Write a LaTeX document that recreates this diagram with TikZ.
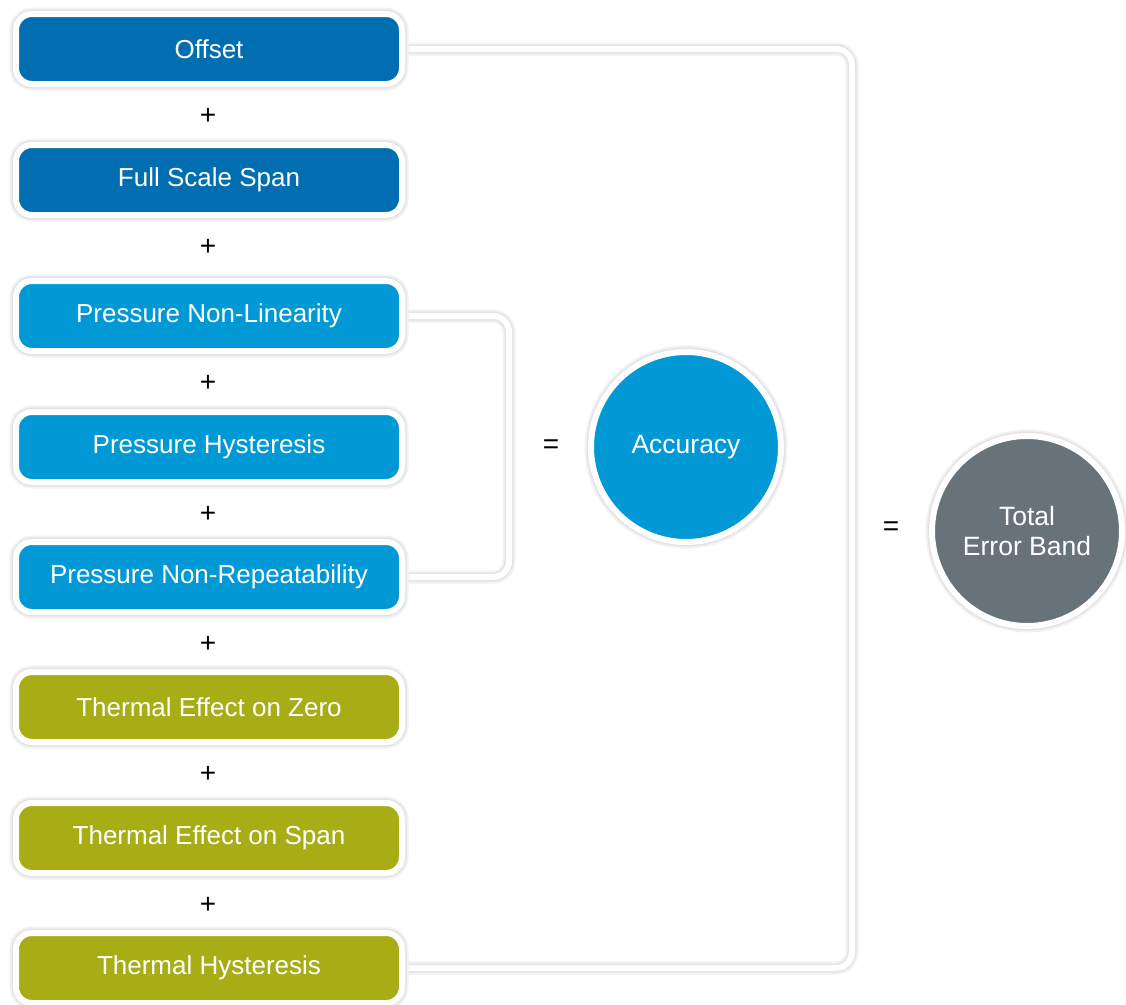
\documentclass[tikz,border=0pt]{standalone}
\usepackage{fontspec}
\setmainfont{Liberation Sans}
\usetikzlibrary{backgrounds,calc}
\definecolor{dblue}{RGB}{0,110,176}
\definecolor{lblue}{RGB}{0,153,214}
\definecolor{olive}{RGB}{168,173,22}
\definecolor{slate}{RGB}{103,114,121}
\tikzset{
  halo/.style={preaction={draw=black!5, line width=13pt},
               preaction={draw=black!11, line width=9pt}},
  errbox/.style={rectangle, rounded corners=16pt, draw=white, line width=6pt,
    minimum width=386pt, minimum height=70pt, text=white, font=\fontsize{26}{30}\selectfont,
    halo},
  bubble/.style={circle, draw=white, line width=6pt, minimum size=190pt,
    text=white, font=\fontsize{26.5}{30}\selectfont, align=center, halo},
  sign/.style={font=\fontsize{28}{30}\selectfont, text=black, inner sep=0pt},
  conn/.style={draw=white, line width=6pt, rounded corners=16pt, halo}
}
\begin{document}
\begin{tikzpicture}[x=1pt,y=-1pt]
\useasboundingbox (0,0) rectangle (1126,1004);
\node[errbox, fill=dblue] (o1) at (209,49) {Offset};
\node[errbox, fill=dblue] (o2) at (209,180) {Full Scale Span};
\node[errbox, fill=lblue] (o3) at (209,316) {Pressure Non-Linearity};
\node[errbox, fill=lblue] (o4) at (209,447) {Pressure Hysteresis};
\node[errbox, fill=lblue] (o5) at (209,577) {Pressure Non-Repeatability};
\node[errbox, fill=olive] (o6) at (209,707) {Thermal Effect on Zero};
\node[errbox, fill=olive] (o7) at (209,838) {Thermal Effect on Span};
\node[errbox, fill=olive] (o8) at (209,968) {Thermal Hysteresis};
\node[sign] (p1) at (208,116) {+};
\node[sign] (p2) at (208,247) {+};
\node[sign] (p3) at (208,383) {+};
\node[sign] (p4) at (208,514) {+};
\node[sign] (p5) at (208,644) {+};
\node[sign] (p6) at (208,774) {+};
\node[sign] (p7) at (208,905) {+};
\node[sign] (eq1) at (551,447) {=};
\node[sign] (eq2) at (891,529) {=};
\node[bubble, fill=lblue] (acc) at (686,447) {Accuracy};
\node[bubble, fill=slate] (teb) at (1027,531) {Total\\Error Band};
\coordinate (Q) at (509,0);
\coordinate (R) at (852,0);
\begin{scope}[on background layer]
\fill[white] (0,0) rectangle (1126,1004);
\draw[conn] (o3.east) -- (o3.east -| Q) -- (o5.east -| Q) -- (o5.east);
\draw[conn] (o1.east) -- (o1.east -| R) -- (o8.east -| R) -- (o8.east);
\end{scope}
\end{tikzpicture}
\end{document}
